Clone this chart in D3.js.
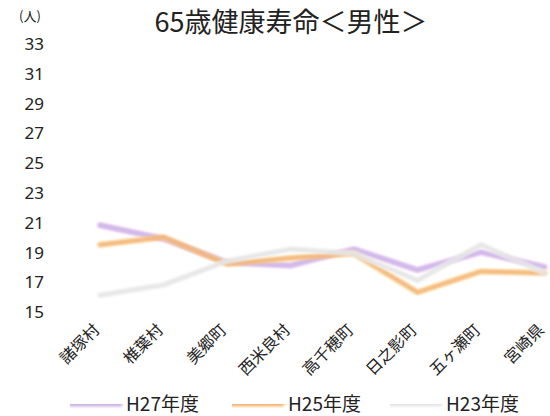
<!DOCTYPE html>
<html><head><meta charset="utf-8">
<script src="https://cdn.jsdelivr.net/npm/d3@7"></script>
<style>
body{margin:0;background:#fff;}
text{font-family:"Noto Sans CJK JP","Noto Sans",sans-serif;fill:#222;}
</style></head>
<body><svg id="c" width="550" height="416"></svg>
<script>
const categories = ["諸塚村","椎葉村","美郷町","西米良村","高千穂町","日之影町","五ヶ瀬町","宮崎県"];
const h27 = [20.8, 19.9, 18.3, 18.1, 19.2, 17.8, 19.0, 18.0];
const h25 = [19.5, 20.0, 18.2, 18.6, 18.9, 16.3, 17.7, 17.6];
const h23 = [16.1, 16.8, 18.4, 19.2, 18.9, 17.1, 19.5, 17.6];
const yTicks = [15,17,19,21,23,25,27,29,31,33];
const seriesNames = ["H27年度","H25年度","H23年度"];
const seriesColors = ["#c7b6ea","#f5b27a","#e4e4e4"];
const seriesGlow = ["#e9a8e6","#f9d47a","#f2f2f2"];

const svg = d3.select("#c");
const defs = svg.append("defs");
const f = defs.append("filter").attr("id","soft").attr("filterUnits","userSpaceOnUse")
  .attr("x",0).attr("y",0).attr("width",550).attr("height",416);
f.append("feGaussianBlur").attr("stdDeviation",0.8);

const x = d3.scalePoint().domain(categories).range([100, 544.5]);
const y = d3.scaleLinear().domain([15,33]).range([311.7, 43.5]);

// title
svg.append("text").attr("x",291).attr("y",32).attr("text-anchor","middle")
  .style("font-size","27px").text("65歳健康寿命＜男性＞");
svg.append("text").attr("x",30).attr("y",21).attr("text-anchor","middle")
  .style("font-size","13px").text("(人)");

// y axis (labels only)
const yAxis = d3.axisLeft(y).tickValues(yTicks).tickSize(0).tickPadding(0);
const gy = svg.append("g").attr("transform","translate(44,0)").call(yAxis);
gy.select(".domain").remove();
gy.selectAll("text").style("font-size","17px").style("font-family","'Noto Sans','Liberation Sans',sans-serif").attr("fill","#222").attr("dy","0.35em");

// x axis labels
const xAxis = d3.axisBottom(x).tickSize(0).tickPadding(0);
const gx = svg.append("g").attr("transform","translate(0,331)").call(xAxis);
gx.select(".domain").remove();
gx.selectAll("text").style("font-size","16px").attr("fill","#222")
  .attr("text-anchor","end").attr("dy",0)
  .attr("transform","translate(0,0) rotate(-45)");

// lines
const allSeries = [h27,h25,h23];
const line = d3.line().x((d,i)=>x(categories[i])).y(d=>y(d));
allSeries.forEach((s,k)=>{
  svg.append("path").datum(s).attr("d",line).attr("fill","none")
    .attr("stroke",seriesGlow[k]).attr("stroke-width",6).attr("stroke-opacity",0.6)
    .attr("stroke-linejoin","round").attr("stroke-linecap","round").attr("filter","url(#soft)");
  svg.append("path").datum(s).attr("d",line).attr("fill","none")
    .attr("stroke",seriesColors[k]).attr("stroke-width",4).attr("stroke-opacity",0.85)
    .attr("stroke-linejoin","round").attr("stroke-linecap","round").attr("filter","url(#soft)");
});

// legend
const legX = [70, 232, 390];
seriesNames.forEach((n,k)=>{
  const g = svg.append("g").attr("transform",`translate(${legX[k]},404)`);
  g.append("line").attr("x1",0).attr("x2",50).attr("y1",0).attr("y2",0)
    .attr("stroke",seriesGlow[k]).attr("stroke-width",6).attr("stroke-opacity",0.5).attr("stroke-linecap","round").attr("filter","url(#soft)");
  g.append("line").attr("x1",0).attr("x2",50).attr("y1",0).attr("y2",0)
    .attr("stroke",seriesColors[k]).attr("stroke-width",4).attr("stroke-linecap","round").attr("filter","url(#soft)");
  g.append("text").attr("x",56).attr("y",0).attr("dy","0.36em").style("font-size","19px").text(n);
});
</script></body></html>
